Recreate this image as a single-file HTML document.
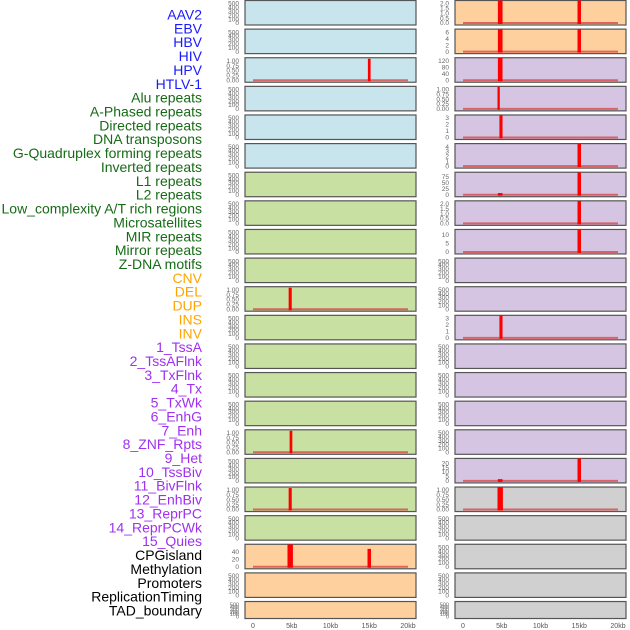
<!DOCTYPE html>
<html><head><meta charset="utf-8">
<style>
body{margin:0;background:#fff;width:630px;height:630px;overflow:hidden}
svg{display:block;font-family:"Liberation Sans",sans-serif}
</style></head><body>
<svg id="c" width="630" height="630" xmlns="http://www.w3.org/2000/svg"></svg>
<script>
const labels=["AAV2","EBV","HBV","HIV","HPV","HTLV-1","Alu repeats","A-Phased repeats","Directed repeats","DNA transposons","G-Quadruplex forming repeats","Inverted repeats","L1 repeats","L2 repeats","Low_complexity A/T rich regions","Microsatellites","MIR repeats","Mirror repeats","Z-DNA motifs","CNV","DEL","DUP","INS","INV","1_TssA","2_TssAFlnk","3_TxFlnk","4_Tx","5_TxWk","6_EnhG","7_Enh","8_ZNF_Rpts","9_Het","10_TssBiv","11_BivFlnk","12_EnhBiv","13_ReprPC","14_ReprPCWk","15_Quies","CPGisland","Methylation","Promoters","ReplicationTiming","TAD_boundary"];
const labelGroups=[6,13,5,15,5];
const groupColors=["#1a1aff","#166b16","#ffa500","#a030f0","#000000"];
const xTicks=[0,5,10,15,20];
const xTickLabels=["0","5kb","10kb","15kb","20kb"];
const T500=[0,100,200,300,400,500];
const T1=[0,0.25,0.5,0.75,1.0];
const leftColors=["b","b","b","b","b","b","g","g","g","g","g","g","g","g","g","g","g","g","g","o","o","o"];
const rightColors=["o","o","p","p","p","p","p","p","p","p","p","p","p","p","p","p","p","y","y","y","y","y"];
const leftTicks=[T500,T500,T1,T500,T500,T500,T500,T500,T500,T500,T1,T500,T500,T500,T500,T1,T500,T1,T500,[0,20,40],T500,T500];
const leftMax=[525,525,1.05,525,525,525,525,525,525,525,1.05,525,525,525,525,1.05,525,1.05,525,55,525,525];
const leftSpikes=[[],[],[[15,1.1,0.35]],[],[],[],[],[],[],[],[[4.8,1.1,0.4]],[],[],[],[],[[4.9,1.1,0.35]],[],[[4.8,1.1,0.4]],[],[[4.8,60,0.7],[15,48,0.45]],[],[]];
const rightTicks=[[0,0.5,1,1.5,2],[0,2,4,6],[0,40,80,120],T1,[0,1,2,3],[0,1,2,3,4],[0,25,50,75],[0,0.5,1,1.5,2],[0,5,10],T500,T500,[0,1,2,3],T500,T500,T500,T500,[0,5,10,15,20],T1,T500,T500,T500,T500];
const rightMax=[2.1,6.3,126,1.05,3.15,4.2,85,2.1,12,525,525,3.15,525,525,525,525,23,1.05,525,525,525,525];
const rightSpikes=[[[4.8,3,0.6],[15,3,0.45]],[[4.8,9,0.6],[15,9,0.45]],[[4.8,200,0.6]],[[4.6,2,0.3]],[[4.9,5,0.4]],[[15,6,0.45]],[[4.8,7,0.6],[15,120,0.45]],[[15,3,0.45]],[[15,20,0.45]],[],[],[[4.9,5,0.4]],[],[],[],[],[[4.8,2,0.6],[15,30,0.45]],[[4.8,2,0.7]],[],[],[],[]];
const fills={b:"#c8e4ec",g:"#c8e0a2",o:"#fed09e",p:"#d6c5e2",y:"#d0d0d0"};
const NS="http://www.w3.org/2000/svg";
const svg=document.getElementById("c");
function mk(t,a,p){const e=document.createElementNS(NS,t);for(const k in a)e.setAttribute(k,a[k]);(p||svg).appendChild(e);return e;}
let li=0;
labelGroups.forEach((n,g)=>{for(let j=0;j<n;j++){const t=mk("text",{x:202,y:19.5+li*13.86,"text-anchor":"end","font-size":"14",fill:groupColors[g]});t.textContent=labels[li];


li++;}});
function rowTop(i){return 0.5+i*28.62;}
function rowH(i){return i===21?17:24.5;}
function drawCol(x0,x1,colors,ticks,maxes,spikes,side){
  const xs=k=>(x0+8)+k/20*(x1-x0-16);
  for(let i=0;i<22;i++){
    const top=rowTop(i),h=rowH(i),bot=top+h;
    const g=mk("g",{});
    
    
    mk("rect",{x:x0,y:top,width:x1-x0,height:h,fill:fills[colors[i]],stroke:"#555","stroke-width":"1.2"},g);
    const ys=v=>(bot-2)-v/maxes[i]*(h-4);
    ticks[i].forEach(v=>{const t=mk("text",{x:x0-6,y:ys(v)+2.2,"text-anchor":"end","font-size":i===21?"5.5":"6.5",fill:"#666"},g);t.textContent=String(ticks[i]===T1?v.toFixed(2):(ticks[i][1]===0.5?v.toFixed(1):v));});
    if(spikes[i].length||ticks[i]!==T500){
      mk("line",{x1:xs(0),x2:xs(20),y1:ys(0),y2:ys(0),stroke:"#d84040","stroke-opacity":"0.75","stroke-width":"2"},g);
    }
    const cp="cp"+side+i;
    const cl=mk("clipPath",{id:cp},g);mk("rect",{x:x0,y:top,width:x1-x0,height:h},cl);
    spikes[i].forEach(s=>{
      const w=s[2]*(x1-x0-16)/20;
      const yt=ys(s[1]);
      const r=mk("rect",{x:xs(s[0])-w/2,y:Math.max(yt,top),width:w,height:ys(0)-Math.max(yt,top)+1,fill:"#ff0000","clip-path":"url(#"+cp+")"},g);
      
      
    });
  }
  xTicks.forEach((k,j)=>{const t=mk("text",{x:xs(k),y:628,"text-anchor":"middle","font-size":"7",fill:"#555"});t.textContent=xTickLabels[j];
  
  });
}
drawCol(245,416,leftColors,leftTicks,leftMax,leftSpikes,"left");
drawCol(455,626,rightColors,rightTicks,rightMax,rightSpikes,"right");
</script>
</body></html>
